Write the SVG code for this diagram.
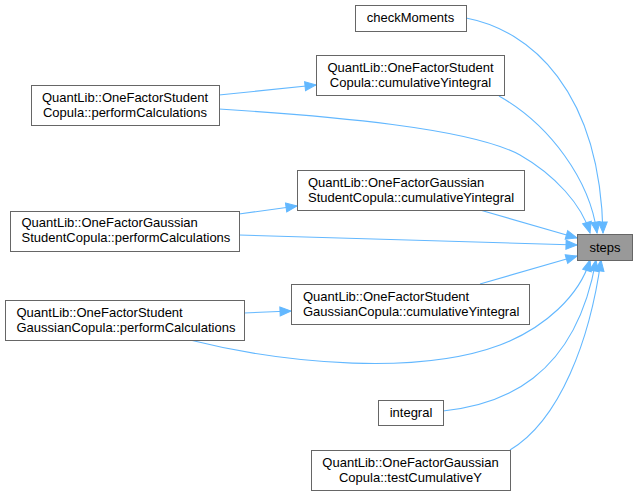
<svg xmlns="http://www.w3.org/2000/svg" width="637" height="495" viewBox="0 0 637 495">
<style>
.node rect{fill:#ffffff;stroke:#666666;stroke-width:1}
#steps rect{fill:#999999}
text{font-family:"Liberation Sans",Arial,sans-serif;font-size:13px;fill:#000000}
.m{text-anchor:middle}
.s{text-anchor:start}
.edges path{fill:none;stroke:#63b8ff;stroke-width:1.1;marker-end:url(#arr)}
</style>
<defs>
<marker id="arr" markerUnits="userSpaceOnUse" markerWidth="12" markerHeight="10" refX="11" refY="4.5" orient="auto" overflow="visible">
<path d="M0,0 L11,4.5 L0,9 z" fill="#63b8ff" stroke="#63b8ff" stroke-width="1"/>
</marker>
</defs>
<rect width="637" height="495" fill="#ffffff"/>
<g class="edges" id="edges">
<path d="M466,18 C530,30 600,90 603,233"/>
<path d="M499,96 C550,125 590,180 597,233"/>
<path d="M219,95 L316,85"/>
<path d="M219,109 C330,116 470,128 520,155 C555,175 582,205 590,233"/>
<path d="M480,210 L577,238"/>
<path d="M239,214 L297,206"/>
<path d="M239,235 L577,245"/>
<path d="M480,284 L577,256"/>
<path d="M244,313 L291,311"/>
<path d="M190,340 C290,365 420,375 500,345 C545,328 580,295 590,260"/>
<path d="M443,411 C500,405 575,380 596,260"/>
<path d="M510,450 C560,420 590,340 601,260"/>
</g>
<g class="node" id="checkMoments"><rect x="355.5" y="5.5" width="111" height="26"/><text class="m" x="410.5" y="22">checkMoments</text></g>
<g class="node" id="sc_cumY"><rect x="316.5" y="55.5" width="188" height="40"/><text class="m" x="410.5" y="72">QuantLib::OneFactorStudent</text><text class="m" x="410.5" y="87">Copula::cumulativeYintegral</text></g>
<g class="node" id="sc_perf"><rect x="31.5" y="85.5" width="188" height="40"/><text class="m" x="125" y="101.5">QuantLib::OneFactorStudent</text><text class="m" x="125" y="116.5">Copula::performCalculations</text></g>
<g class="node" id="gsc_cumY"><rect x="297.5" y="170.5" width="227" height="40"/><text class="s" x="308" y="186.5">QuantLib::OneFactorGaussian</text><text class="s" x="308" y="201.5">StudentCopula::cumulativeYintegral</text></g>
<g class="node" id="gsc_perf"><rect x="10.5" y="211.5" width="229" height="40"/><text class="s" x="21.5" y="227">QuantLib::OneFactorGaussian</text><text class="s" x="21.5" y="242">StudentCopula::performCalculations</text></g>
<g class="node" id="steps"><rect x="577.5" y="234.5" width="55" height="26"/><text class="m" x="605" y="251.5">steps</text></g>
<g class="node" id="sgc_cumY"><rect x="291.5" y="284.5" width="238" height="40"/><text class="s" x="303" y="300.5">QuantLib::OneFactorStudent</text><text class="s" x="303" y="315.5">GaussianCopula::cumulativeYintegral</text></g>
<g class="node" id="sgc_perf"><rect x="5.5" y="300.5" width="239" height="40"/><text class="s" x="16.5" y="317">QuantLib::OneFactorStudent</text><text class="s" x="16.5" y="332">GaussianCopula::performCalculations</text></g>
<g class="node" id="integral"><rect x="378.5" y="400.5" width="65" height="25"/><text class="m" x="411" y="417">integral</text></g>
<g class="node" id="testCumY"><rect x="311.5" y="450.5" width="199" height="40"/><text class="m" x="410.5" y="466.5">QuantLib::OneFactorGaussian</text><text class="m" x="410.5" y="481.5">Copula::testCumulativeY</text></g>
</svg>
